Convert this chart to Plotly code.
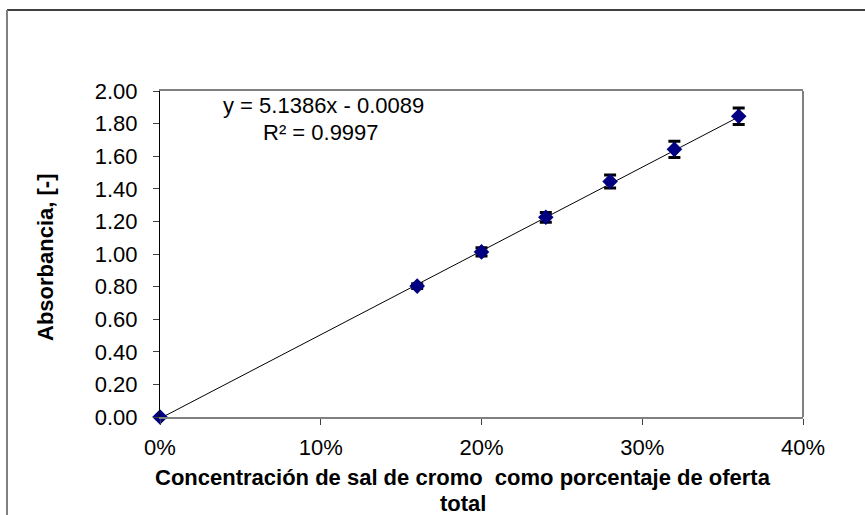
import plotly.graph_objects as go

# Data
conc = [0.0, 0.16, 0.20, 0.24, 0.28, 0.32, 0.36]
absorb = [0.0, 0.803, 1.013, 1.225, 1.445, 1.642, 1.845]
err = [0.0, 0.015, 0.025, 0.03, 0.04, 0.05, 0.05]
slope = 5.1386
intercept = -0.0089
trend_x = [0.0, 0.36]
eq_line1 = "y = 5.1386x - 0.0089"
eq_line2 = "R² = 0.9997"
x_title1 = "<b>Concentración de sal de cromo \u00a0como porcentaje de oferta</b>"
x_title2 = "<b>total</b>"
y_title = "<b>Absorbancia, [-]</b>"
x_ticks = [0, 0.1, 0.2, 0.3, 0.4]
y_ticks = [0, 0.2, 0.4, 0.6, 0.8, 1.0, 1.2, 1.4, 1.6, 1.8, 2.0]

W, H = 865, 515
L, R, T, B = 160, 62, 91, 98
pw, ph = W - L - R, H - T - B

def px(xp):
    return (xp - L) / pw

def py(yp):
    return (H - B - yp) / ph

FONT = "Liberation Sans, Arial, sans-serif"
FS = 22

def label(text, x, y, angle=0):
    return dict(text=text, xref="paper", yref="paper", x=px(x), y=py(y),
                xanchor="center", yanchor="middle", textangle=angle,
                showarrow=False, font=dict(size=FS), align="center",
                borderpad=0)

fig = go.Figure()
fig.add_trace(go.Scatter(
    x=trend_x, y=[slope * v + intercept for v in trend_x],
    mode="lines", line=dict(color="black", width=1), hoverinfo="skip",
    showlegend=False, cliponaxis=True))
fig.add_trace(go.Scatter(
    x=conc, y=absorb, mode="markers",
    marker=dict(symbol="diamond", size=12, color="#000080"),
    error_y=dict(type="data", array=err, visible=True, color="black",
                 thickness=3, width=6),
    showlegend=False, cliponaxis=False))

fig.update_layout(
    width=W, height=H, margin=dict(l=L, r=R, t=T, b=B),
    paper_bgcolor="white", plot_bgcolor="white",
    font=dict(family=FONT, size=FS, color="black"),
    showlegend=False,
    xaxis=dict(range=[0, 0.4], tickvals=x_ticks, tickformat=".0%",
               showgrid=False, zeroline=False, showline=True,
               linecolor="#808080", linewidth=2, mirror=True,
               ticks="outside", ticklen=6, tickcolor="#404040",
               tickfont=dict(size=FS), ticklabelstandoff=4),
    yaxis=dict(range=[0, 2.0], tickvals=y_ticks, tickformat=".2f",
               showgrid=False, zeroline=False, showline=True,
               linecolor="black", linewidth=1,
               ticks="outside", ticklen=6, tickcolor="#404040",
               tickfont=dict(size=FS), ticklabelstandoff=11),
    annotations=[
        label(eq_line1, 323, 106),
        label(eq_line2, 321, 132),
        label(x_title1, 463, 477),
        label(x_title2, 463, 503),
        label(y_title, 45, 258, angle=-90),
    ],
    shapes=[
        dict(type="line", xref="paper", yref="paper", x0=1, x1=1, y0=0, y1=1,
             line=dict(color="#808080", width=2)),
        dict(type="line", xref="paper", yref="paper", x0=px(7), x1=px(866),
             y0=py(10), y1=py(10), line=dict(color="black", width=1.5)),
        dict(type="line", xref="paper", yref="paper", x0=px(7), x1=px(7),
             y0=py(10), y1=py(516), line=dict(color="#808080", width=2)),
    ],
)

fig.write_html("out.html")
